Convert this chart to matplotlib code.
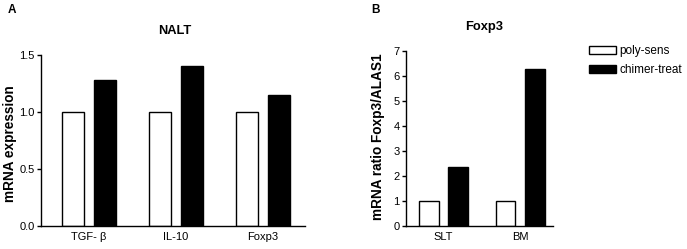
import numpy as np
import matplotlib
matplotlib.use('Agg')
from matplotlib import pyplot as plt
from matplotlib.patches import Patch

plt.rcParams['font.family'] = ['Liberation Sans', 'DejaVu Sans']

#%% Data
nalt_genes = ['TGF- \u03b2', 'IL-10', 'Foxp3']
nalt_poly = [1.0, 1.0, 1.0]
nalt_chimer = [1.28, 1.40, 1.15]

foxp3_tissues = ['SLT', 'BM']
foxp3_poly = [1.0, 1.0]
foxp3_chimer = [2.37, 6.28]

legend_labels = ['poly-sens', 'chimer-treat']

#%% Figure
W, H = 687, 249
fig = plt.figure(figsize=(W / 100., H / 100.), dpi=100)

def px_axes(x0, x1, y_bot, y_top):
    return fig.add_axes([x0 / W, 1 - y_bot / H, (x1 - x0) / W, (y_bot - y_top) / H])

def style(ax):
    for s in ['top', 'right']:
        ax.spines[s].set_visible(False)
    for s in ['left', 'bottom']:
        ax.spines[s].set_linewidth(1.0)
    ax.tick_params(axis='y', direction='out', length=3, width=1, labelsize=8, pad=1.5)
    ax.tick_params(axis='x', length=0, labelsize=8, pad=4)

# Panel A
ax1 = px_axes(41, 305, 226, 55)
x = np.arange(len(nalt_genes))
w, off = 0.253, 0.184
ax1.bar(x - off, nalt_poly, w, color='white', edgecolor='black', linewidth=1.0)
ax1.bar(x + off, nalt_chimer, w, color='black', edgecolor='black', linewidth=1.0)
ax1.set_xlim(-0.552, 2.483)
ax1.set_ylim(0, 1.5)
ax1.set_yticks([0.0, 0.5, 1.0, 1.5])
ax1.set_yticklabels(['0.0', '0.5', '1.0', '1.5'])
ax1.set_xticks(x)
ax1.set_xticklabels(nalt_genes)
ax1.set_ylabel('mRNA expression', fontsize=9.8, fontweight='bold', va='center')
ax1.yaxis.set_label_coords((10 - 41) / 264., 0.48)
style(ax1)
fig.text(175 / W, 1 - 31 / H, 'NALT', fontsize=9.3, fontweight='bold', ha='center', va='center')
fig.text(8 / W, 1 - 10 / H, 'A', fontsize=8.5, fontweight='bold', ha='left', va='center')

# Panel B
ax2 = px_axes(406, 553, 226, 51)
x2 = np.arange(len(foxp3_tissues))
w2, off2 = 0.26, 0.19
ax2.bar(x2 - off2, foxp3_poly, w2, color='white', edgecolor='black', linewidth=1.0)
ax2.bar(x2 + off2, foxp3_chimer, w2, color='black', edgecolor='black', linewidth=1.0)
ax2.set_xlim(-0.49, 1.43)
ax2.set_ylim(0, 7)
ax2.set_yticks(range(0, 8))
ax2.set_xticks(x2)
ax2.set_xticklabels(foxp3_tissues)
ax2.set_ylabel('mRNA ratio Foxp3/ALAS1', fontsize=9.8, fontweight='bold', va='center')
ax2.yaxis.set_label_coords((378 - 406) / 147., 0.51)
style(ax2)
fig.text(484 / W, 1 - 27 / H, 'Foxp3', fontsize=9.3, fontweight='bold', ha='center', va='center')
fig.text(375 / W, 1 - 10 / H, 'B', fontsize=8.5, fontweight='bold', ha='center', va='center')

handles = [Patch(facecolor='white', edgecolor='black', linewidth=1.0),
           Patch(facecolor='black', edgecolor='black', linewidth=1.0)]
fig.legend(handles, legend_labels, loc='upper left',
           bbox_to_anchor=(589 / W, 1 - 45 / H), frameon=False, fontsize=8.5,
           handlelength=2.3, handleheight=0.7, handletextpad=0.25, labelspacing=0.6,
           borderpad=0, borderaxespad=0)

fig.savefig('out.png', dpi=100)
